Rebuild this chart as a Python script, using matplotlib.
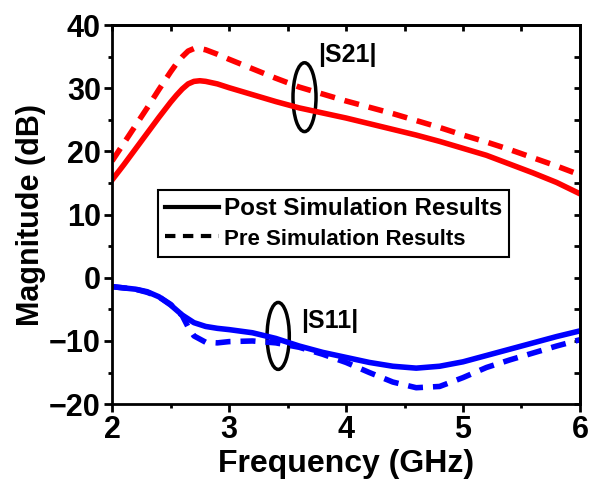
import matplotlib
matplotlib.use("Agg")
import matplotlib.pyplot as plt
from matplotlib.patches import Ellipse
from matplotlib.lines import Line2D
from matplotlib.ticker import MultipleLocator

plt.rcParams['font.family'] = ['Liberation Sans', 'DejaVu Sans']
plt.rcParams['font.weight'] = 'bold'

# frequency points (GHz)
freq21 = [2.0, 2.1, 2.2, 2.3, 2.4, 2.5, 2.55, 2.6, 2.65, 2.7, 2.75, 2.8, 2.9,
          3.0, 3.2, 3.4, 3.6, 3.8, 4.0, 4.2, 4.4, 4.6, 4.8, 5.0, 5.2, 5.4,
          5.6, 5.8, 6.0]

# |S21| (dB)
s21_post = [15.5, 17.9, 20.4, 22.9, 25.4, 27.8, 28.9, 29.9, 30.7, 31.1, 31.2,
            31.1, 30.7, 30.1, 29.0, 27.9, 26.9, 26.1, 25.3, 24.4, 23.5, 22.6,
            21.6, 20.5, 19.4, 18.0, 16.6, 15.1, 13.3]
s21_pre = [18.5, 21.3, 24.1, 26.9, 29.8, 32.6, 33.9, 35.0, 35.9, 36.3, 36.3,
           36.1, 35.4, 34.6, 33.1, 31.6, 30.2, 29.1, 28.0, 27.0, 26.0, 24.9,
           23.8, 22.6, 21.5, 20.3, 19.0, 17.7, 16.3]

# |S11| (dB)
freq11 = [2.0, 2.1, 2.2, 2.3, 2.4, 2.5, 2.6, 2.7, 2.8, 2.9, 3.0, 3.2, 3.4, 3.6,
          3.8, 4.0, 4.2, 4.4, 4.6, 4.8, 5.0, 5.2, 5.4, 5.6, 5.8, 6.0]
s11_post = [-1.4, -1.6, -1.8, -2.2, -3.0, -4.3, -5.9, -7.1, -7.7, -8.0, -8.2,
            -8.7, -9.6, -10.8, -11.8, -12.6, -13.4, -14.0, -14.3, -14.0, -13.3,
            -12.3, -11.3, -10.3, -9.3, -8.4]
freq_pre11 = [2.0, 2.1, 2.2, 2.3, 2.4, 2.5, 2.6, 2.65, 2.7, 2.8, 2.9, 3.0, 3.2,
              3.4, 3.6, 3.8, 4.0, 4.2, 4.4, 4.6, 4.8, 5.0, 5.2, 5.4, 5.6, 5.8, 6.0]
s11_pre = [-1.4, -1.6, -1.8, -2.3, -3.0, -4.2, -6.0, -7.8, -9.2, -10.2, -10.3,
           -10.1, -10.0, -10.3, -11.0, -12.1, -13.4, -15.0, -16.5, -17.4, -17.2,
           -15.8, -14.2, -13.0, -11.9, -10.8, -9.8]

fig = plt.figure(figsize=(5.9, 4.84), dpi=100)
ax = fig.add_axes([0.19, 0.165, 0.793, 0.783])

lw = 4
dash = (2.7, 1.8)
ax.plot(freq21, s21_post, color='red', lw=lw)
ax.plot(freq21, s21_pre, color='red', lw=lw, dashes=dash)
ax.plot(freq11, s11_post, color='blue', lw=lw)
ax.plot(freq_pre11, s11_pre, color='blue', lw=lw, dashes=dash)

ax.set_xlim(2, 6)
ax.set_ylim(-20, 40)
ax.xaxis.set_major_locator(MultipleLocator(1))
ax.xaxis.set_minor_locator(MultipleLocator(0.5))
ax.yaxis.set_major_locator(MultipleLocator(10))
ax.yaxis.set_minor_locator(MultipleLocator(5))

for sp in ax.spines.values():
    sp.set_linewidth(2)
ax.tick_params(which='major', direction='out', length=6, width=2, labelsize=22,
               pad=2)
ax.tick_params(which='minor', direction='out', length=3, width=2)

# inward ticks on top and right
top = ax.secondary_xaxis('top')
top.xaxis.set_major_locator(MultipleLocator(1))
top.xaxis.set_minor_locator(MultipleLocator(0.5))
top.tick_params(which='both', direction='in', length=4, width=2, labeltop=False)
right = ax.secondary_yaxis('right')
right.yaxis.set_major_locator(MultipleLocator(10))
right.yaxis.set_minor_locator(MultipleLocator(5))
right.tick_params(which='both', direction='in', length=4, width=2, labelright=False)
for sa in (top, right):
    for sp in sa.spines.values():
        sp.set_linewidth(2)

ax.set_xlabel('Frequency (GHz)', fontsize=23, fontweight='bold', labelpad=3)
ax.set_ylabel('Magnitude (dB)', fontsize=22, fontweight='bold', labelpad=2)

# ellipses marking the curve pairs
ax.add_patch(Ellipse((3.645, 28.6), 0.197, 10.9, fill=False, ec='black', lw=2.5))
ax.add_patch(Ellipse((3.42, -9.2), 0.19, 10.6, fill=False, ec='black', lw=2.5))
ax.text(4.01, 35.3, '|S21|', fontsize=18, fontweight='bold', ha='center', va='center')
ax.text(3.86, -6.8, '|S11|', fontsize=18, fontweight='bold', ha='center', va='center')

handles = [Line2D([], [], color='black', lw=3),
           Line2D([], [], color='black', lw=3, dashes=(2.5, 1.8))]
leg = ax.legend(handles, ['Post Simulation Results', 'Pre Simulation Results'],
                loc='upper left', bbox_to_anchor=(0.098, 0.565), fancybox=False,
                edgecolor='black', framealpha=1, fontsize=17.5, handlelength=2.2,
                handletextpad=0.2, borderpad=0.3, labelspacing=0.3,
                borderaxespad=0)
leg.get_frame().set_linewidth(1.5)
leg.get_texts()[1].set_fontsize(16)

fig.savefig('out.png', dpi=100)
